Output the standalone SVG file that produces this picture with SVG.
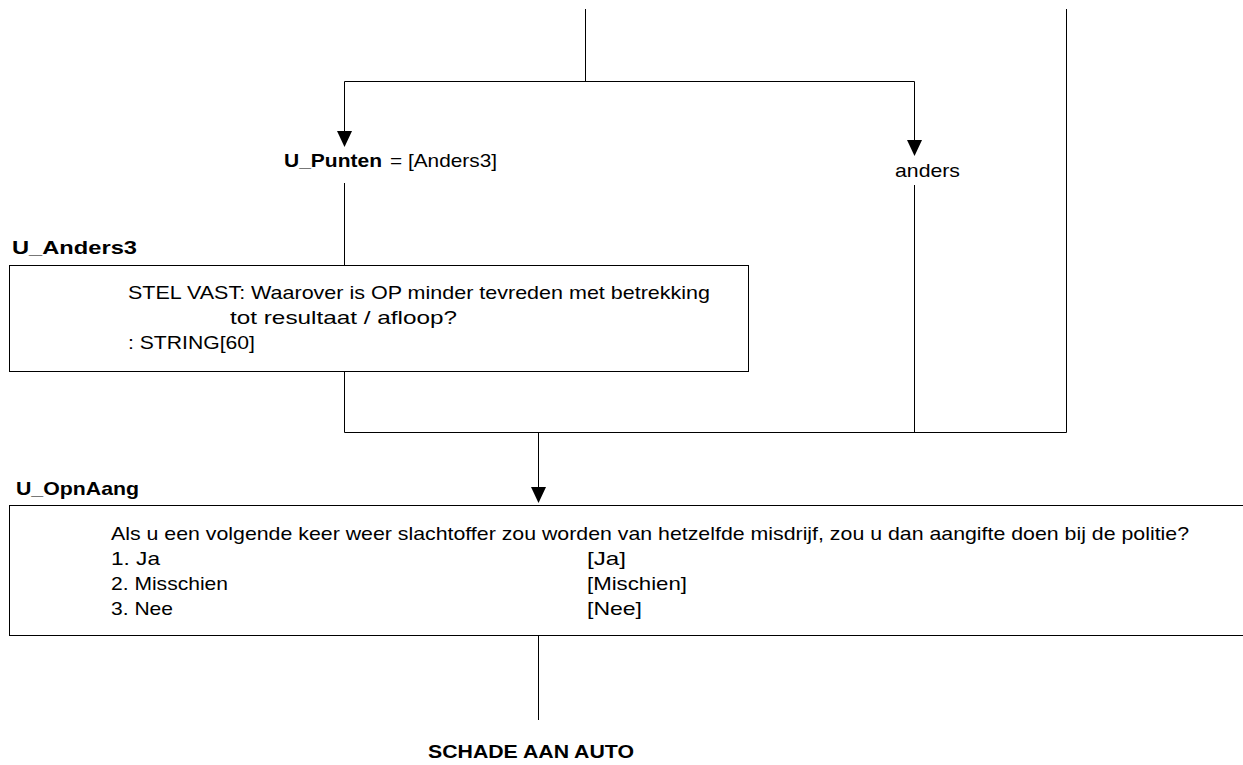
<svg xmlns="http://www.w3.org/2000/svg" width="1243" height="765" viewBox="0 0 1243 765">
<style>
  .t { font-family: "Liberation Sans", Arial, sans-serif; font-size: 19px; fill: #000; }
  .b { font-weight: bold; }
  .ln { stroke: #000; stroke-width: 1; fill: none; }
  .box { stroke: #000; stroke-width: 1; fill: #fff; }
</style>
<defs>
  <marker id="ah" markerUnits="userSpaceOnUse" markerWidth="16" markerHeight="16" viewBox="0 0 16 16" refX="8" refY="16" orient="auto-start-reverse">
    <path d="M1,0 L15,0 L8,16 Z" fill="#000" transform="rotate(0)"/>
  </marker>
</defs>
<g id="connectors">
  <path class="ln" d="M585.5,9 V81.5"/>
  <path class="ln" d="M344.5,81.5 H914.5"/>
  <path class="ln" d="M344.5,81.5 V132"/>
  <polygon points="337,131 352,131 344.5,147" fill="#000"/>
  <path class="ln" d="M914.5,81.5 V141"/>
  <polygon points="907,140 922,140 914.5,156" fill="#000"/>
  <path class="ln" d="M1066.5,9 V432.5"/>
  <path class="ln" d="M344.5,183 V265"/>
  <path class="ln" d="M344.5,371 V432.5"/>
  <path class="ln" d="M914.5,185 V432.5"/>
  <path class="ln" d="M344.5,432.5 H1066.5"/>
  <path class="ln" d="M538.5,432.5 V488"/>
  <polygon points="531,487 546,487 538.5,503" fill="#000"/>
  <path class="ln" d="M538.5,636 V720"/>
</g>
<g id="cond_punten">
  <text class="t b" x="284" y="167" textLength="98" lengthAdjust="spacingAndGlyphs">U_Punten</text>
  <text class="t" x="390" y="167" textLength="107" lengthAdjust="spacingAndGlyphs">= [Anders3]</text>
</g>
<g id="cond_anders">
  <text class="t" x="895" y="177" textLength="65" lengthAdjust="spacingAndGlyphs">anders</text>
</g>
<g id="U_Anders3">
  <text class="t b" x="12" y="254" textLength="125" lengthAdjust="spacingAndGlyphs">U_Anders3</text>
  <rect class="box" x="9.5" y="265.5" width="739" height="106"/>
  <text class="t" x="128" y="299" textLength="582" lengthAdjust="spacingAndGlyphs">STEL VAST: Waarover is OP minder tevreden met betrekking</text>
  <text class="t" x="230" y="324" textLength="227" lengthAdjust="spacingAndGlyphs">tot resultaat / afloop?</text>
  <text class="t" x="128" y="349" textLength="127" lengthAdjust="spacingAndGlyphs">: STRING[60]</text>
</g>
<g id="U_OpnAang">
  <text class="t b" x="16" y="495" textLength="123" lengthAdjust="spacingAndGlyphs">U_OpnAang</text>
  <rect class="box" x="9.5" y="505.5" width="1250" height="130"/>
  <text class="t" x="111" y="540" textLength="1078" lengthAdjust="spacingAndGlyphs">Als u een volgende keer weer slachtoffer zou worden van hetzelfde misdrijf, zou u dan aangifte doen bij de politie?</text>
  <text class="t" x="111" y="565" textLength="49" lengthAdjust="spacingAndGlyphs">1. Ja</text>
  <text class="t" x="587" y="565" textLength="39" lengthAdjust="spacingAndGlyphs">[Ja]</text>
  <text class="t" x="111" y="590" textLength="117" lengthAdjust="spacingAndGlyphs">2. Misschien</text>
  <text class="t" x="587" y="590" textLength="100" lengthAdjust="spacingAndGlyphs">[Mischien]</text>
  <text class="t" x="111" y="615" textLength="62" lengthAdjust="spacingAndGlyphs">3. Nee</text>
  <text class="t" x="587" y="615" textLength="55" lengthAdjust="spacingAndGlyphs">[Nee]</text>
</g>
<g id="schade">
  <text class="t b" x="428" y="758" textLength="206" lengthAdjust="spacingAndGlyphs">SCHADE AAN AUTO</text>
</g>
</svg>
